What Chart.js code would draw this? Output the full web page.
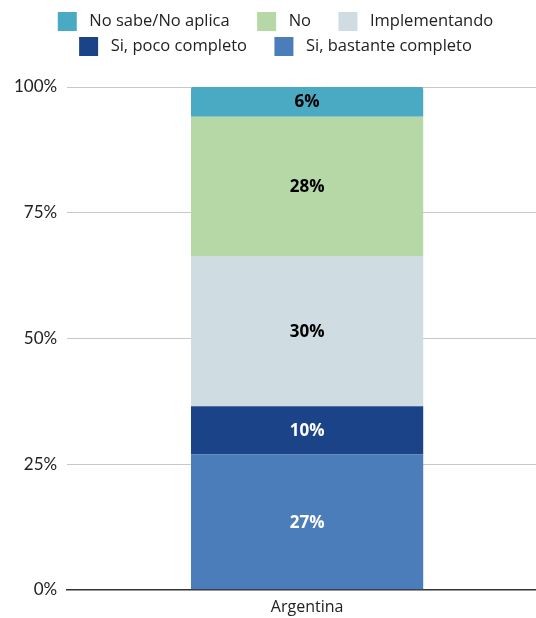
<!DOCTYPE html>
<html>
<head>
<meta charset="utf-8">
<script src="https://cdn.jsdelivr.net/npm/chart.js@4/dist/chart.umd.min.js"></script>
<style>
  html, body { margin: 0; padding: 0; background: #fff; overflow: hidden; }
  #wrap { width: 547px; height: 625px; }
</style>
</head>
<body>
<div id="wrap"><canvas id="graph1"></canvas></div>
<script>
// datos (de abajo hacia arriba en la barra)
const categories = ["Argentina"];
const series_names = ["Si, bastante completo", "Si, poco completo", "Implementando", "No", "No sabe/No aplica"];
const series_values = [26.9, 9.6, 29.9, 27.7, 6.0];
const series_labels = ["27%", "10%", "30%", "28%", "6%"];
const y_ticks = [0, 25, 50, 75, 100];

const bg_colors = ["#4a7dba", "#1b4388", "#cfdde2", "#b5d8a6", "#4aaac4"];
const label_colors = ["#ffffff", "#ffffff", "#000000", "#000000", "#000000"];

// plugin sencillo para las etiquetas dentro de la barra
const barLabels = {
  id: "barLabels",
  afterDatasetsDraw(chart) {
    const c = chart.ctx;
    c.save();
    c.font = "bold 17px 'Open Sans'";
    c.textAlign = "center";
    c.textBaseline = "middle";
    chart.data.datasets.forEach(function(ds, i) {
      const meta = chart.getDatasetMeta(i);
      meta.data.forEach(function(bar) {
        c.fillStyle = label_colors[i];
        c.fillText(series_labels[i], bar.x, (bar.y + bar.base) / 2 + 1);
      });
    });
    c.restore();
  }
};

// mas espacio debajo de la leyenda
const legendMargin = {
  id: "legendMargin",
  beforeInit(chart) {
    const fitValue = chart.legend.fit;
    chart.legend.fit = function fit() {
      fitValue.bind(chart.legend)();
      this.height += 21;
    };
  }
};

// items al final de una fila de la leyenda (sin espacio extra detras)
const row_end = ["Implementando", "Si, bastante completo"];

const ctx = document.getElementById("graph1");

new Chart(ctx, {
  type: "bar",
  data: {
    labels: categories,
    datasets: series_names.map(function(name, i) {
      return {
        label: name,
        data: [series_values[i]],
        backgroundColor: bg_colors[i],
        borderWidth: 0,
        borderRadius: i == series_names.length - 1 ? {topLeft: 3, topRight: 3} : 0,
        borderSkipped: false,
        barPercentage: 0.484,
        categoryPercentage: 1.0
      };
    })
  },
  options: {
    responsive: true,
    maintainAspectRatio: false,
    animation: false,
    layout: { padding: { left: 4, right: 0, top: 6, bottom: 0 } },
    plugins: {
      legend: {
        display: true,
        reverse: true,
        labels: {
          boxWidth: 19,
          boxHeight: 19,
          padding: 6,
          color: "#222",
          font: { family: "'Open Sans'", size: 16.5 },
          generateLabels: function(chart) {
            const items = Chart.defaults.plugins.legend.labels.generateLabels(chart);
            items.forEach(function(it) {
              it.text = " " + it.text + (row_end.indexOf(it.text) >= 0 ? "" : "     ");
            });
            return items;
          }
        }
      },
      tooltip: { enabled: false }
    },
    scales: {
      x: {
        stacked: true,
        grid: { display: false, drawTicks: false },
        border: { color: "#333", width: 1.5 },
        ticks: { color: "#222", padding: 8, font: { family: "'Open Sans'", size: 16 } }
      },
      y: {
        stacked: true,
        min: 0,
        max: 100,
        afterBuildTicks: function(axis) {
          axis.ticks = y_ticks.map(function(v) { return { value: v }; });
        },
        grid: { color: "#c8c8c8", drawTicks: false },
        border: { display: false },
        ticks: {
          color: "#222",
          padding: 10,
          font: { family: "Lato", size: 17 },
          callback: function(v) { return v + "%"; }
        }
      }
    }
  },
  plugins: [barLabels, legendMargin]
});
</script>
</body>
</html>
